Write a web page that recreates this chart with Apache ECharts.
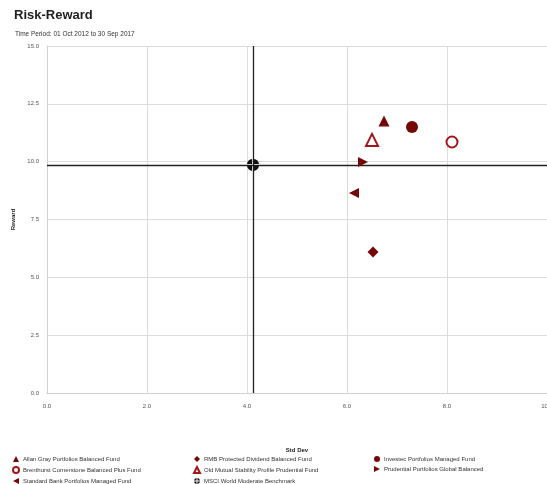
<!DOCTYPE html>
<html><head><meta charset="utf-8">
<script src="https://cdn.jsdelivr.net/npm/echarts@6/dist/echarts.min.js"></script>
<style>html,body{margin:0;padding:0;background:#fff;overflow:hidden}#c{width:547px;height:484px}</style>
</head><body><div id="c"></div>
<script>
const fundNames = [
  "Allan Gray Portfolios Balanced Fund",
  "Brenthurst Cornerstone Balanced Plus Fund",
  "Standard Bank Portfolios Managed Fund",
  "RMB Protected Dividend Balanced Fund",
  "Old Mutual Stability Profile Prudential Fund",
  "MSCI World Moderate Benchmark",
  "Investec Portfolios Managed Fund",
  "Prudential Portfolios Global Balanced"
];
const stdDev = [6.74, 8.10, 6.14, 6.52, 6.50, 4.12, 7.30, 6.32];
const reward = [11.76, 10.85, 8.65, 6.10, 10.94, 9.86, 11.50, 9.99];
const xTicks = [0, 2, 4, 6, 8, 10];
const yTicks = [0, 2.5, 5, 7.5, 10, 12.5, 15];
const benchmarkIndex = 5;

const dark = '#760707';
const red = '#a3161a';
const cross = 'path://M11.5,8.5 L11.5,0.113 A10,10 0 0 1 19.887,8.5 Z M8.5,8.5 L0.113,8.5 A10,10 0 0 1 8.5,0.113 Z M8.5,11.5 L8.5,19.887 A10,10 0 0 1 0.113,11.5 Z M11.5,11.5 L19.887,11.5 A10,10 0 0 1 11.5,19.887 Z';
const triLeft = 'path://M10,0 L0,5 L10,10 Z';
const triRight = 'path://M0,0 L10,5 L0,10 Z';
const styles = [
  {symbol:'triangle', size:11, color:dark, fill:true},
  {symbol:'emptyCircle', size:11, color:red, fill:false},
  {symbol:triLeft, size:[10,10], color:dark, fill:true},
  {symbol:'diamond', size:11, color:dark, fill:true},
  {symbol:'emptyTriangle', size:12, color:red, fill:false},
  {symbol:cross, size:12, color:'#111', fill:true},
  {symbol:'circle', size:12, color:dark, fill:true},
  {symbol:triRight, size:[10,10], color:dark, fill:true}
];
const font = 'Liberation Sans';
const series = fundNames.map((n, i) => {
  const s = {
    name: n, type: 'scatter', data: [[stdDev[i], reward[i]]],
    symbol: styles[i].symbol, symbolSize: styles[i].size,
    itemStyle: styles[i].fill ? {color: styles[i].color, opacity: 1} : {color: styles[i].color, borderColor: styles[i].color, borderWidth: 1.2, opacity: 1},
    emphasis: {disabled: true},
    z: i === benchmarkIndex ? 5 : 3
  };
  if (i === benchmarkIndex) {
    s.markLine = {
      silent: true, symbol: 'none', label: {show: false},
      lineStyle: {color: '#222', width: 1.3, type: 'solid', opacity: 1},
      data: [{xAxis: stdDev[i]}, {yAxis: reward[i]}], z: 2
    };
  }
  return s;
});
const legendCols = [[0,1,2],[3,4,5],[6,7]];
const legendLeft = [12, 193, 374];
const legends = legendCols.map((col, k) => ({
  orient: 'vertical', left: legendLeft[k], top: 456, height: 40, padding: 0,
  itemWidth: 6, itemHeight: 6, itemGap: 4,
  data: col.map(i => fundNames[i]),
  textStyle: {fontSize: 6, fontFamily: font, color: '#333', padding: [0,0,0,-1]},
  selectedMode: false
}));
const chart = echarts.init(document.getElementById('c'), null, {renderer: 'canvas'});
chart.setOption({
  animation: false,
  backgroundColor: '#fff',
  title: [
    {text: 'Risk-Reward', left: 9, top: 4, textStyle: {fontSize: 13, fontWeight: 'bold', fontFamily: font, color: '#222'}},
    {text: 'Time Period: 01 Oct 2012 to 30 Sep 2017', left: 10, top: 26, textStyle: {fontSize: 6.5, fontWeight: 'normal', fontFamily: font, color: '#333'}}
  ],
  grid: {left: 47, right: 0, top: 46, bottom: 91, containLabel: false, outerBoundsMode: 'none'},
  xAxis: {
    type: 'value', min: xTicks[0], max: xTicks[xTicks.length-1], interval: xTicks[1]-xTicks[0],
    name: 'Std Dev', nameLocation: 'middle', nameGap: 54,
    nameTextStyle: {fontSize: 6, fontWeight: 'bold', fontFamily: font, color: '#222'},
    axisLine: {show: true, lineStyle: {color: '#d0d0d0'}},
    axisTick: {show: false},
    axisLabel: {fontSize: 6, fontFamily: font, color: '#555', margin: 10, formatter: v => v.toFixed(1)},
    splitLine: {show: true, lineStyle: {color: '#dcdcdc', width: 1}}
  },
  yAxis: {
    type: 'value', min: yTicks[0], max: yTicks[yTicks.length-1], interval: yTicks[1]-yTicks[0],
    name: 'Reward', nameLocation: 'middle', nameGap: 17, nameRotate: 90,
    nameTextStyle: {fontSize: 6, fontWeight: 'bold', fontFamily: font, color: '#222'},
    axisLine: {show: true, lineStyle: {color: '#d0d0d0'}},
    axisTick: {show: false},
    axisLabel: {fontSize: 6, fontFamily: font, color: '#555', margin: 8, formatter: v => v.toFixed(1)},
    splitLine: {show: true, lineStyle: {color: '#dcdcdc', width: 1}}
  },
  legend: legends,
  series: series
});
</script></body></html>
